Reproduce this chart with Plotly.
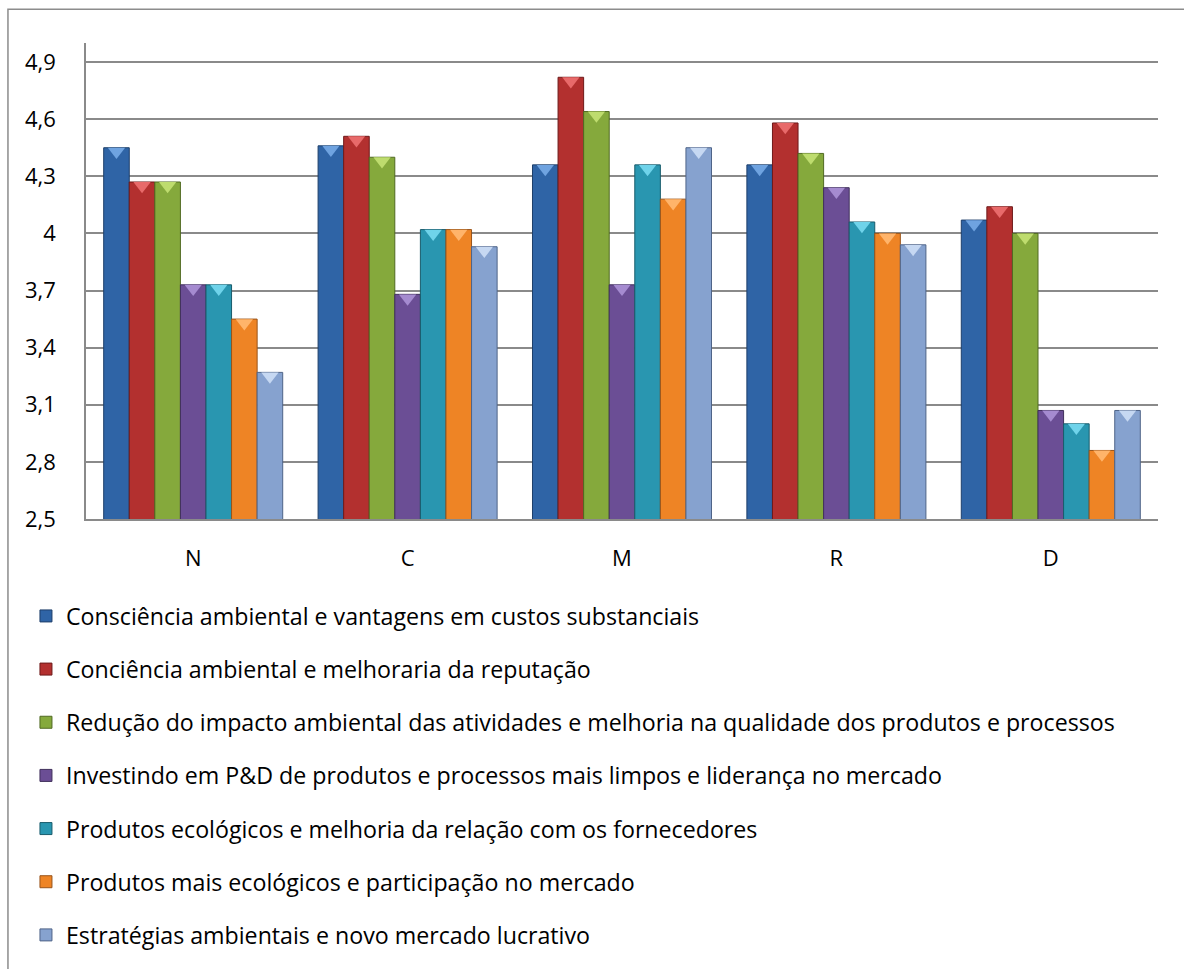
import plotly.graph_objects as go

# Regions (categories on the x axis)
categories = ["N", "C", "M", "R", "D"]

# Series names
series_names = [
    "Consciência ambiental e vantagens em custos substanciais",
    "Conciência ambiental e melhoraria da reputação",
    "Redução do impacto ambiental das atividades e melhoria na qualidade dos produtos e processos",
    "Investindo em P&D de produtos e processos mais limpos e liderança no mercado",
    "Produtos ecológicos e melhoria da relação com os fornecedores",
    "Produtos mais ecológicos e participação no mercado",
    "Estratégias ambientais e novo mercado lucrativo",
]

# Mean scores per series, one value per region (N, C, M, R, D)
custos = [4.45, 4.46, 4.36, 4.36, 4.07]
reputacao = [4.27, 4.51, 4.82, 4.58, 4.14]
impacto = [4.27, 4.40, 4.64, 4.42, 4.00]
pd_limpos = [3.73, 3.68, 3.73, 4.24, 3.07]
fornecedores = [3.73, 4.02, 4.36, 4.06, 3.00]
participacao = [3.55, 4.02, 4.18, 4.00, 2.86]
lucrativo = [3.27, 3.93, 4.45, 3.94, 3.07]

series_values = [custos, reputacao, impacto, pd_limpos, fornecedores, participacao, lucrativo]

# Y axis ticks
y_min, y_max, y_step = 2.5, 5.0, 0.3

fill_colors = ["#2F64A6", "#B3302F", "#85A93C", "#6B4E95", "#2996B0", "#EE8425", "#86A2CF"]
edge_colors = ["#1E3F6A", "#6E1A1A", "#506A22", "#40305C", "#195C6C", "#99541A", "#4F6488"]
cap_colors = ["#6FA3E0", "#E86A6A", "#BEDC6E", "#A58BD0", "#6FD3EA", "#FFB46A", "#C6D8F2"]

n_series = len(series_values)
group_width = 0.835
bar_w = group_width / n_series

fig = go.Figure()
for j, (name, vals) in enumerate(zip(series_names, series_values)):
    xs = [i - group_width / 2 + (j + 0.5) * bar_w for i in range(len(categories))]
    fig.add_trace(go.Bar(
        x=xs, y=vals, width=bar_w, name=name,
        legendgroup=f"g{j}",
        marker=dict(color=fill_colors[j], line=dict(color=edge_colors[j], width=1)),
    ))
    # light bevel cap at the top of each bar
    fig.add_trace(go.Scatter(
        x=xs, y=[v - 0.02 for v in vals], mode="markers",
        legendgroup=f"g{j}", showlegend=False, hoverinfo="skip",
        marker=dict(symbol="triangle-down", size=15, color=cap_colors[j],
                    line=dict(width=0)),
    ))

grid_color = "#8A8A8A"
font_family = "'Open Sans', Lato, sans-serif"

fig.update_layout(
    width=1184, height=969,
    margin=dict(l=86, r=26, t=43, b=445),
    paper_bgcolor="white", plot_bgcolor="white",
    barmode="overlay",
    separators=",.",
    font=dict(family=font_family, size=22, color="#000000"),
    showlegend=True,
    legend=dict(
        orientation="v", x=-0.056, xanchor="left", y=-0.1583, yanchor="top",
        traceorder="grouped", tracegroupgap=20,
        font=dict(family=font_family, size=23.2, color="#000000"),
        bgcolor="rgba(0,0,0,0)",
    ),
    xaxis=dict(
        range=[-0.5, len(categories) - 0.5],
        tickvals=list(range(len(categories))), ticktext=categories,
        showgrid=False, zeroline=False,
        showline=True, linecolor=grid_color, linewidth=1.5,
        ticks="", tickfont=dict(size=22), ticklabelstandoff=19,
    ),
    yaxis=dict(
        range=[y_min, y_max], tick0=y_min, dtick=y_step,
        showgrid=True, gridcolor=grid_color, gridwidth=1.5,
        zeroline=False, showline=True, linecolor=grid_color, linewidth=1.5,
        ticks="", tickfont=dict(size=22), ticklabelstandoff=24,
    ),
    shapes=[dict(
        type="rect", xref="paper", yref="paper",
        x0=-0.0728, x1=1.04, y0=-0.95, y1=1.0707,
        line=dict(color="#8C8C8C", width=1.5), fillcolor="rgba(0,0,0,0)",
        layer="below",
    )],
)

fig.write_html("out.html")
